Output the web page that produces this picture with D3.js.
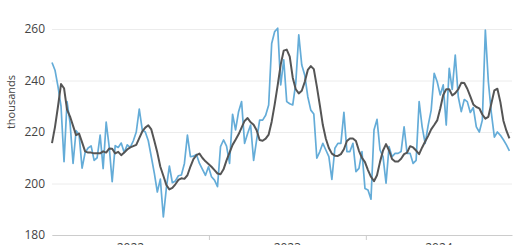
<!DOCTYPE html>
<html>
<head>
<meta charset="utf-8">
<script src="https://cdn.jsdelivr.net/npm/d3@7"></script>
<style>
  body { margin: 0; background: #fff; }
  svg text { font-family: "Open Sans", sans-serif; }
</style>
</head>
<body>
<div id="chart"></div>
<script>
(function() {
  'use strict';

// weekly readings, first week starting 2022-01-01
const FIRST_WEEK = "2022-01-01";
const LAST_DAY = "2024-12-06";

const weekly = [
  247, 244, 237.6, 230, 208.5, 231.8, 223.5, 207.8, 220.5, 219,
  206, 212, 213.8, 214.6, 209, 210, 218.8, 205.8, 223.8, 214.3,
  200.7, 214.7, 214, 215.7, 212, 215, 214, 216.5, 220, 228.9,
  220.8, 220, 216.6, 210.4, 204, 196.7, 201.7, 187, 198.2, 206.8,
  200.3, 201, 203, 203.3, 207.8, 218.8, 210.4, 210.6, 211.3, 207.8,
  205.5, 203.2, 206.5, 202.6, 201.3, 198.8, 214.3, 216.9, 214.5, 207.8,
  226.9, 220.8, 227.9, 231.8, 215.6, 219.4, 222.7, 209, 216.9, 224.6,
  224.6, 226.5, 230.5, 254.4, 259, 260.3, 238.3, 248, 231.8, 231,
  230.5, 238.9, 257.7, 246, 242, 233.7, 228.5, 227, 209.8, 212.4,
  215.6, 213, 210.4, 201.6, 213.7, 215.6, 215.6, 227.6, 212.4, 212.4,
  215.6, 204.6, 205.9, 212.4, 198.1, 197.5, 193.9, 220.8, 224.9, 213,
  210.4, 200.1, 214.3, 210.4, 211.7, 211.7, 212.4, 222, 211.7, 211.7,
  207.8, 209, 231.8, 222, 215.6, 222.6, 228.5, 242.8, 239.5, 234.4,
  238.3, 222.7, 244.7, 236.5, 249.9, 233.7, 227.9, 232.6, 231.8, 227.6,
  229.5, 222, 220, 224.6, 259.6, 239.5, 227.3, 218, 220, 218.7,
  217, 215, 212.7
];

const average = [
  215.7, 222, 230, 238.6, 237, 228.7, 226, 222.4, 218.8, 219.4,
  216, 212.5, 212, 212, 211.7, 211.7, 211.7, 212.5, 212, 213.6,
  213.5, 211.7, 212.3, 211, 212, 213.2, 214, 214.5, 215, 217.6,
  220.2, 221.7, 222.6, 221, 216.6, 212, 206.5, 203, 199.4, 197.7,
  198.3, 199.7, 201.4, 202, 201.8, 203.2, 206.6, 209.5, 211, 211.6,
  209.9, 208.6, 207.6, 206.5, 205.2, 203.9, 203.6, 205.5, 209, 212,
  215, 217, 219.1, 221.7, 224.3, 225.4, 223.8, 222.8, 220.7, 216.9,
  216.6, 217.4, 219, 224, 230.7, 238.2, 246.2, 251.6, 252, 249.3,
  241.1, 236.6, 235, 236, 239.5, 244.1, 245.6, 244.4, 237.7, 230.4,
  222.7, 217.4, 213.8, 211.6, 210.8, 210.7, 211.4, 213.3, 216.5, 217.5,
  217.5, 216.5, 212.7, 210, 208.3, 205.2, 202.6, 200.9, 203.2, 208.4,
  212.8, 215.3, 212.8, 209.5, 208.5, 208.5, 209.6, 211.4, 212, 214.5,
  214, 212.8, 211.4, 214, 216.3, 218.5, 221, 222.7, 224.5, 229,
  234.4, 236.6, 236.6, 234.2, 235.1, 236.6, 239.1, 239, 236.8, 233.8,
  230.7, 229.7, 229.2, 226.8, 225.2, 225.9, 231.1, 236.2, 236.8, 231.6,
  224.4, 220.5, 217.5
];

const yTicks = [180, 200, 220, 240, 260];
const yearLabels = ["2022", "2023", "2024"];
const yTitle = "thousands";

const W = 520;
const H = 245;
const M = { top: 29, right: 8, bottom: 10, left: 52 };

const parse = d3.utcParse("%Y-%m-%d");
const start = parse(FIRST_WEEK);
const dates = weekly.map((d, i) => d3.utcDay.offset(start, i * 7));

const xScale = d3.scaleUtc()
  .domain([start, parse(LAST_DAY)])
  .range([M.left, W - M.right]);

const yScale = d3.scaleLinear()
  .domain([180, 260])
  .range([H - M.bottom, M.top]);

const svg = d3.select("#chart")
  .append("svg")
    .attr("width", W)
    .attr("height", H);

// grid + y labels
svg.append("g")
  .attr("transform", `translate(${M.left},0)`)
  .call(d3.axisLeft(yScale)
    .tickValues(yTicks)
    .tickSize(-(W - M.left - M.right))
    .tickPadding(7))
  .call(g => g.select(".domain").remove())
  .call(g => g.selectAll("line").attr("stroke", "#ececec"))
  .call(g => g.selectAll("text")
    .attr("fill", "#444")
    .style("font-size", "12px"));

svg.append("text")
  .attr("transform", `translate(15, 102) rotate(-90)`)
  .attr("text-anchor", "middle")
  .attr("fill", "#444")
  .style("font-size", "11px")
  .text(yTitle);

// bottom axis with year boundaries
const yearStarts = yearLabels.map(y => parse(y + "-01-01"));

svg.append("g")
  .attr("transform", `translate(0,${H - M.bottom})`)
  .call(d3.axisBottom(xScale)
    .tickValues(yearStarts.slice(1))
    .tickSize(5)
    .tickSizeOuter(0)
    .tickFormat(""))
  .call(g => g.select(".domain").attr("stroke", "#ccc"))
  .call(g => g.selectAll(".tick line").attr("stroke", "#ccc"));

const dom = xScale.domain();
svg.append("g")
  .selectAll("text")
  .data(yearLabels)
  .enter()
  .append("text")
    .attr("x", (d, i) => {
      const a = yearStarts[i] < dom[0] ? dom[0] : yearStarts[i];
      const next = i + 1 < yearStarts.length ? yearStarts[i + 1] : dom[1];
      return (xScale(a) + xScale(next)) / 2;
    })
    .attr("y", H - M.bottom + 17)
    .attr("text-anchor", "middle")
    .attr("fill", "#444")
    .style("font-size", "12px")
    .text(d => d);

const line = d3.line()
  .x((d, i) => xScale(dates[i]))
  .y(d => yScale(d));

svg.append("path")
  .datum(weekly)
  .attr("fill", "none")
  .attr("stroke", "#64acd8")
  .attr("stroke-width", 1.7)
  .attr("stroke-linejoin", "round")
  .attr("d", line);

svg.append("path")
  .datum(average)
  .attr("fill", "none")
  .attr("stroke", "#555")
  .attr("stroke-width", 2)
  .attr("stroke-linejoin", "round")
  .attr("d", line);

})();
</script>
</body>
</html>
